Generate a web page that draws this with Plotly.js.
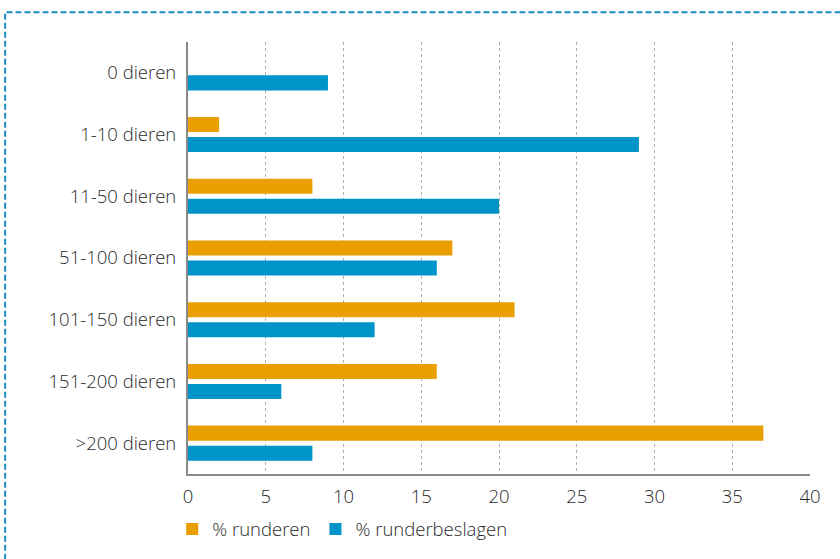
<!DOCTYPE html>
<html>
<head>
<meta charset="utf-8">
<script src="https://cdn.plot.ly/plotly-3.0.1.min.js"></script>
<style>html,body{margin:0;padding:0;background:#fff;}#chart{width:840px;height:559px;}</style>
</head>
<body>
<div id="chart"></div>
<script>
const categories = ["0 dieren", "1-10 dieren", "11-50 dieren", "51-100 dieren", "101-150 dieren", "151-200 dieren", ">200 dieren"];
const runderen = [0, 2, 8, 17, 21, 16, 37];
const runderbeslagen = [9, 29, 20, 16, 12, 6, 8];
const xTicks = [0, 5, 10, 15, 20, 25, 30, 35, 40];

const font = {family: "Open Sans, Noto Sans, sans-serif", size: 18.5, color: "#2a2a2a", weight: 300};

const traces = [
  {type: "bar", orientation: "h", name: "% runderen", y: categories, x: runderen,
   marker: {color: "#e99f00"}, hoverinfo: "x"},
  {type: "bar", orientation: "h", name: "% runderbeslagen", y: categories, x: runderbeslagen,
   marker: {color: "#0094c9"}, hoverinfo: "x"}
];

const layout = {
  width: 840, height: 559,
  margin: {l: 188, r: 30, t: 42, b: 85},
  paper_bgcolor: "#fff", plot_bgcolor: "#fff",
  font: font,
  barmode: "group", bargap: 0.35, bargroupgap: 0.25,
  showlegend: true,
  legend: {orientation: "h", xref: "container", yref: "container",
           x: 0.205, xanchor: "left", y: 0.019, yanchor: "bottom",
           font: font, itemwidth: 30, traceorder: "normal", tracegroupgap: 0},
  xaxis: {range: [0, 40], tickvals: xTicks, ticktext: xTicks.map(String),
          showgrid: true, gridcolor: "#b0b0b0", griddash: "3px,3px", gridwidth: 1,
          showline: true, linecolor: "#8a8a8a", linewidth: 2, zeroline: false,
          ticks: "", ticklabelstandoff: 5, tickfont: font, fixedrange: true, automargin: false},
  yaxis: {type: "category", autorange: "reversed", showgrid: false,
          showline: true, linecolor: "#8a8a8a", linewidth: 2, zeroline: false,
          ticks: "", ticklabelstandoff: 6, tickfont: font, fixedrange: true, automargin: false},
  shapes: [{type: "rect", xref: "paper", yref: "paper",
            x0: -0.294, x1: 1.2, y0: -0.25, y1: 1.069,
            line: {color: "#1a8cc4", width: 2, dash: "6px,3px"}, layer: "below"}]
};

Plotly.newPlot("chart", traces, layout, {displayModeBar: false, staticPlot: true});
</script>
</body>
</html>
